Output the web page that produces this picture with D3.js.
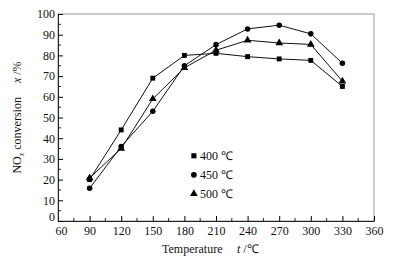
<!DOCTYPE html>
<html>
<head>
<meta charset="utf-8">
<script src="https://cdn.jsdelivr.net/npm/d3@7"></script>
<style>
  body { margin: 0; background: #fff; }
  text { font-family: "Liberation Serif", "Times New Roman", serif; fill: #111; }
</style>
</head>
<body>
<div id="chart-container"></div>
<script>
const temps = [90, 120, 150, 180, 210, 240, 270, 300, 330]
const s400 = [20, 44, 69, 80, 81, 79.4, 78.3, 77.6, 65]
const s450 = [15.8, 36, 53, 75, 85.2, 92.8, 94.6, 90.4, 76.2]
const s500 = [20.8, 35, 59, 74, 82.5, 87.3, 86, 85.3, 67.5]
const seriesNames = ["400 ℃", "450 ℃", "500 ℃"]
const symbolTypes = [d3.symbolSquare, d3.symbolCircle, d3.symbolTriangle]
const xTicks = [60, 90, 120, 150, 180, 210, 240, 270, 300, 330, 360]
const yTicks = [0, 10, 20, 30, 40, 50, 60, 70, 80, 90, 100]

const margin = {top: 14, right: 22, bottom: 40, left: 58},
  width = 396 - margin.left - margin.right,
  height = 261 - margin.top - margin.bottom;

const svg = d3.select("#chart-container")
  .append("svg")
    .attr("width", 396)
    .attr("height", 261)
  .append("g")
    .attr("transform", `translate(${margin.left},${margin.top})`);

const x = d3.scaleLinear().domain([60, 360]).range([0, width])
const y = d3.scaleLinear().domain([0, 100]).range([height, 0])

// frame
svg.append("rect")
  .attr("width", width).attr("height", height)
  .attr("fill", "none").attr("stroke", "#999").attr("stroke-width", 1)

// minor ticks
const xMinor = d3.range(75, 360, 30)
const yMinor = d3.range(5, 100, 10)
svg.selectAll(".xminor").data(xMinor).join("line")
  .attr("x1", d => x(d)).attr("x2", d => x(d))
  .attr("y1", height).attr("y2", height - 3)
  .attr("stroke", "#222")
svg.selectAll(".yminor").data(yMinor).join("line")
  .attr("x1", 0).attr("x2", 3)
  .attr("y1", d => y(d)).attr("y2", d => y(d))
  .attr("stroke", "#222")

const xAxis = svg.append("g")
  .attr("transform", `translate(0,${height})`)
  .attr("font-family", "Liberation Serif")
  .call(d3.axisBottom(x).tickValues(xTicks).tickSizeInner(-5).tickSizeOuter(0).tickPadding(5))
xAxis.select(".domain").attr("stroke", "#222")
xAxis.selectAll("text").style("font-size", "12px")
// nudge the corner label so it clears the y-axis "0"
xAxis.selectAll("text").filter(d => d === 60).attr("dx", 3)

const yAxis = svg.append("g")
  .attr("font-family", "Liberation Serif")
  .call(d3.axisLeft(y).tickValues(yTicks).tickSizeInner(-5).tickSizeOuter(0).tickPadding(3))
yAxis.select(".domain").attr("stroke", "#222")
yAxis.selectAll("text").style("font-size", "12px")
yAxis.selectAll("text").filter(d => d === 0).attr("dy", "-0.05em")

const allSeries = [s400, s450, s500]
const line = d3.line().x((d, i) => x(temps[i])).y(d => y(d))

allSeries.forEach((vals, k) => {
  svg.append("path")
    .datum(vals)
    .attr("d", line)
    .attr("fill", "none")
    .attr("stroke", "#111")
    .attr("stroke-width", 1)
  svg.selectAll(".pt" + k).data(vals).join("path")
    .attr("transform", (d, i) => `translate(${x(temps[i])},${y(d)})`)
    .attr("d", d3.symbol().type(symbolTypes[k]).size(k === 2 ? 26 : 24))
    .attr("fill", "#000")
})

// legend
const legend = svg.append("g").attr("transform", `translate(${x(189)},${y(31.5)})`)
seriesNames.forEach((name, k) => {
  const g = legend.append("g").attr("transform", `translate(0,${k * 19})`)
  g.append("path").attr("d", d3.symbol().type(symbolTypes[k]).size(26)).attr("fill", "#000")
  g.append("text").attr("x", 6).attr("y", 4.5).style("font-size", "12px").text(name)
})

// axis titles
svg.append("text")
  .attr("x", 104).attr("y", height + 32)
  .style("font-size", "12px")
  .text("Temperature")
svg.append("text")
  .attr("x", 179).attr("y", height + 32)
  .style("font-size", "12px")
  .html('<tspan font-style="italic">t</tspan> /℃')

const yl = svg.append("text")
  .attr("transform", `translate(-37,${height / 2}) rotate(-90)`)
  .attr("text-anchor", "middle")
  .style("font-size", "12px")
yl.append("tspan").text("NO")
yl.append("tspan").attr("dy", 3).style("font-size", "8px").style("font-style", "italic").text("x")
yl.append("tspan").attr("dy", -3).text(" conversion")
yl.append("tspan").attr("dx", 14).style("font-style", "italic").text("x")
yl.append("tspan").text(" /%")
</script>
</body>
</html>
